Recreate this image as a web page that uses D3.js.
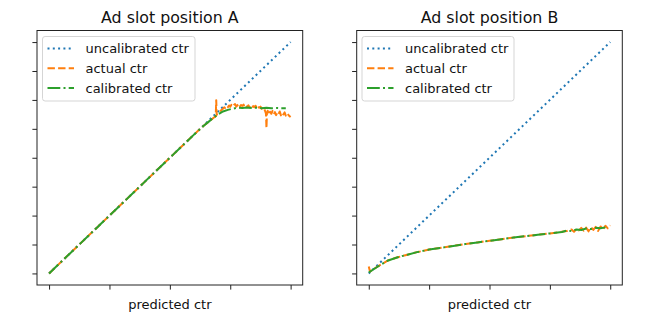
<!DOCTYPE html>
<html>
<head>
<meta charset="utf-8">
<script src="https://cdn.jsdelivr.net/npm/d3@7"></script>
<style>
html,body{margin:0;padding:0;background:#fff;}
svg{display:block;font-family:"DejaVu Sans",sans-serif;}
</style>
</head>
<body>
<svg id="chart" width="648" height="331"></svg>
<script>
// ---------- data ----------
const titles = ["Ad slot position A", "Ad slot position B"];
const xLabel = "predicted ctr";
const legendLabels = ["uncalibrated ctr", "actual ctr", "calibrated ctr"];
const xTicks = [0, 0.25, 0.5, 0.75, 1];
const yTicks = [0, 0.125, 0.25, 0.375, 0.5, 0.625, 0.75, 0.875, 1];

const uncalX = [0, 1];
const uncalY = [0, 1];

// Panel A
const calAX = [0, 0.2, 0.4, 0.6, 0.64, 0.66, 0.68, 0.70, 0.72, 0.74, 0.76, 0.78, 0.80, 0.82, 0.84, 0.86, 0.88, 0.90, 0.92, 0.94, 0.96, 0.98];
const calAY = [0, 0.2, 0.4, 0.6, 0.638, 0.655, 0.672, 0.688, 0.700, 0.707, 0.712, 0.716, 0.715, 0.717, 0.715, 0.716, 0.714, 0.716, 0.714, 0.715, 0.714, 0.714];
const actAX = [0, 0.2, 0.4, 0.6, 0.62, 0.64, 0.66, 0.68, 0.690, 0.692, 0.694, 0.696, 0.70, 0.71, 0.72, 0.725, 0.73, 0.735, 0.74, 0.745, 0.75, 0.755, 0.76, 0.765, 0.77, 0.775, 0.78, 0.785, 0.79, 0.795, 0.80, 0.805, 0.81, 0.815, 0.82, 0.825, 0.83, 0.835, 0.84, 0.845, 0.85, 0.855, 0.86, 0.865, 0.87, 0.875, 0.88, 0.885, 0.89, 0.895, 0.898, 0.900, 0.902, 0.905, 0.91, 0.915, 0.92, 0.925, 0.93, 0.935, 0.94, 0.945, 0.95, 0.955, 0.96, 0.965, 0.97, 0.975, 0.98, 0.985, 0.99, 0.995, 1.0];
const actAY = [0, 0.2, 0.4, 0.6, 0.62, 0.638, 0.655, 0.672, 0.680, 0.749, 0.685, 0.690, 0.693, 0.703, 0.712, 0.718, 0.714, 0.722, 0.718, 0.726, 0.720, 0.729, 0.722, 0.728, 0.732, 0.721, 0.727, 0.733, 0.722, 0.728, 0.724, 0.730, 0.719, 0.725, 0.720, 0.727, 0.717, 0.724, 0.716, 0.723, 0.718, 0.725, 0.714, 0.722, 0.716, 0.721, 0.712, 0.719, 0.714, 0.700, 0.690, 0.628, 0.692, 0.703, 0.686, 0.699, 0.690, 0.702, 0.688, 0.697, 0.684, 0.696, 0.689, 0.700, 0.683, 0.694, 0.687, 0.696, 0.682, 0.692, 0.686, 0.680, 0.676];

// Panel B
const calBX = [0, 0.02, 0.05, 0.08, 0.12, 0.16, 0.20, 0.25, 0.30, 0.35, 0.40, 0.45, 0.50, 0.55, 0.60, 0.65, 0.70, 0.75, 0.80, 0.82, 0.84, 0.86, 0.88, 0.90, 0.92, 0.94, 0.96, 0.98];
const calBY = [0.004, 0.018, 0.038, 0.056, 0.070, 0.081, 0.092, 0.103, 0.111, 0.119, 0.127, 0.134, 0.141, 0.148, 0.155, 0.161, 0.167, 0.173, 0.179, 0.185, 0.183, 0.190, 0.188, 0.194, 0.192, 0.197, 0.195, 0.199];
const actBX = [0, 0.005, 0.02, 0.05, 0.08, 0.12, 0.16, 0.20, 0.25, 0.30, 0.35, 0.40, 0.45, 0.50, 0.55, 0.60, 0.65, 0.70, 0.75, 0.80, 0.82, 0.84, 0.85, 0.86, 0.87, 0.88, 0.89, 0.90, 0.91, 0.92, 0.93, 0.94, 0.95, 0.96, 0.97, 0.98, 0.99, 1.0];
const actBY = [0.030, 0.008, 0.019, 0.038, 0.056, 0.070, 0.081, 0.092, 0.103, 0.111, 0.119, 0.127, 0.134, 0.141, 0.148, 0.155, 0.161, 0.167, 0.173, 0.180, 0.183, 0.190, 0.180, 0.192, 0.186, 0.197, 0.185, 0.198, 0.182, 0.200, 0.188, 0.201, 0.184, 0.203, 0.190, 0.206, 0.195, 0.208];

const panels = [
  {title: titles[0], left: 37, right: 302.7, cal: [calAX, calAY], act: [actAX, actAY], legLeft: 42.5, legRight: 195},
  {title: titles[1], left: 356.7, right: 622.3, cal: [calBX, calBY], act: [actBX, actBY], legLeft: 362, legRight: 514}
];

const colors = {uncal: "#1f77b4", act: "#ff7f0e", cal: "#2ca02c"};
const dashes = {uncal: "2,3.3", act: "7.4,3.2", cal: "12.8,3.2,2,3.2"};
const plotTop = 30.5, plotBottom = 285;

const svg = d3.select("#chart");

function zip(xs, ys) { return xs.map((x, i) => [x, ys[i]]); }

panels.forEach(p => {
  const x = d3.scaleLinear().domain([-0.05, 1.05]).range([p.left, p.right]);
  const y = d3.scaleLinear().domain([-0.05, 1.05]).range([plotBottom, plotTop]);
  const g = svg.append("g");

  const line = d3.line().x(d => x(d[0])).y(d => y(d[1]));

  const series = [
    {k: "uncal", data: zip(uncalX, uncalY)},
    {k: "act", data: zip(p.act[0], p.act[1])},
    {k: "cal", data: zip(p.cal[0], p.cal[1])}
  ];
  series.forEach(s => {
    g.append("path").attr("d", line(s.data))
      .attr("fill", "none").attr("stroke", colors[s.k])
      .attr("stroke-width", 2).attr("stroke-dasharray", dashes[s.k])
      .attr("stroke-linejoin", "round");
  });

  // axes
  const xa = g.append("g").attr("transform", `translate(0,${plotBottom})`)
    .call(d3.axisBottom(x).tickValues(xTicks).tickSize(4.6).tickFormat(""));
  const ya = g.append("g").attr("transform", `translate(${p.left},0)`)
    .call(d3.axisLeft(y).tickValues(yTicks).tickSize(4.6).tickFormat(""));
  [xa, ya].forEach(a => {
    a.select(".domain").remove();
    a.selectAll("line").attr("stroke", "#222").attr("stroke-width", 1);
  });

  g.append("rect").attr("x", p.left).attr("y", plotTop)
    .attr("width", p.right - p.left).attr("height", plotBottom - plotTop)
    .attr("fill", "none").attr("stroke", "#222").attr("stroke-width", 1);

  // title & label
  const cx = (p.left + p.right) / 2;
  g.append("text").attr("x", cx).attr("y", 22.5).attr("text-anchor", "middle")
    .attr("font-size", 15.8).attr("fill", "#111").text(p.title);
  g.append("text").attr("x", cx).attr("y", 308.5).attr("text-anchor", "middle")
    .attr("font-size", 13).attr("fill", "#111").text(xLabel);

  // legend
  const lg = g.append("g");
  lg.append("rect").attr("x", p.legLeft).attr("y", 36.5)
    .attr("width", p.legRight - p.legLeft).attr("height", 64.5)
    .attr("rx", 2.6).attr("fill", "#fff").attr("fill-opacity", 0.8)
    .attr("stroke", "#d5d5d5").attr("stroke-width", 1);
  const keys = ["uncal", "act", "cal"];
  keys.forEach((k, i) => {
    const ly = 48.5 + i * 19.8;
    lg.append("line").attr("x1", p.legLeft + 5).attr("x2", p.legLeft + 31.5)
      .attr("y1", ly).attr("y2", ly)
      .attr("stroke", colors[k]).attr("stroke-width", 2)
      .attr("stroke-dasharray", dashes[k]);
    lg.append("text").attr("x", p.legLeft + 43).attr("y", ly + 4.6)
      .attr("font-size", 13).attr("fill", "#111").text(legendLabels[i]);
  });
});
</script>
</body>
</html>
